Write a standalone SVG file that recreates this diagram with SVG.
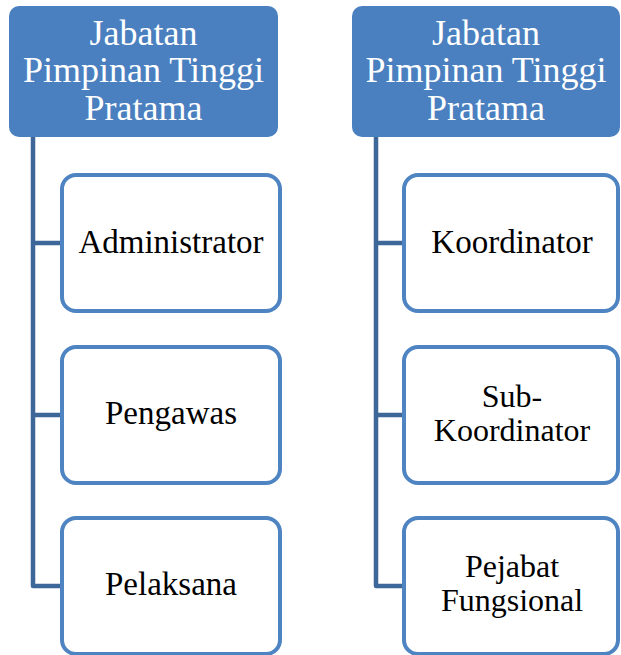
<svg xmlns="http://www.w3.org/2000/svg" width="621" height="655" viewBox="0 0 621 655">
<style>
.hdr{fill:#4a80bf;}
.ht{fill:#ffffff;font-family:"Liberation Serif",serif;font-size:36px;text-anchor:middle;}
.box{fill:#ffffff;stroke:#4f84c2;stroke-width:4;}
.ct{fill:#000000;font-family:"Liberation Serif",serif;font-size:33px;text-anchor:middle;}
.ct2{fill:#000000;font-family:"Liberation Serif",serif;font-size:32px;text-anchor:middle;}
.con{fill:none;stroke:#3d6699;stroke-width:4.5;stroke-linejoin:round;}
</style>
<rect width="621" height="655" fill="#ffffff"/>
<g id="connectors">
<path class="con" d="M33,137 V586 H60 M33,243 H60 M33,415 H60"/>
<path class="con" d="M376,137 V586 H402 M376,243 H402 M376,415 H402"/>
</g>
<g id="hdr-left">
<rect class="hdr" x="9" y="6" width="269" height="131" rx="10"/>
<text class="ht" x="143.5" y="45">Jabatan</text>
<text class="ht" x="143.5" y="82">Pimpinan Tinggi</text>
<text class="ht" x="143.5" y="120">Pratama</text>
</g>
<g id="hdr-right">
<rect class="hdr" x="352" y="6" width="268" height="131" rx="10"/>
<text class="ht" x="486" y="45">Jabatan</text>
<text class="ht" x="486" y="82">Pimpinan Tinggi</text>
<text class="ht" x="486" y="120">Pratama</text>
</g>
<g id="administrator">
<rect class="box" x="62" y="175" width="218" height="136" rx="14"/>
<text class="ct" x="171" y="253">Administrator</text>
</g>
<g id="pengawas">
<rect class="box" x="62" y="347" width="218" height="136" rx="14"/>
<text class="ct" x="171" y="424">Pengawas</text>
</g>
<g id="pelaksana">
<rect class="box" x="62" y="518" width="218" height="136" rx="14"/>
<text class="ct" x="171" y="595">Pelaksana</text>
</g>
<g id="koordinator">
<rect class="box" x="404" y="175" width="214" height="136" rx="14"/>
<text class="ct" x="512" y="253">Koordinator</text>
</g>
<g id="sub-koordinator">
<rect class="box" x="404" y="347" width="214" height="136" rx="14"/>
<text class="ct2" x="512" y="407">Sub-</text>
<text class="ct2" x="512" y="441">Koordinator</text>
</g>
<g id="pejabat-fungsional">
<rect class="box" x="404" y="518" width="214" height="136" rx="14"/>
<text class="ct2" x="512" y="577">Pejabat</text>
<text class="ct2" x="512" y="611">Fungsional</text>
</g>
</svg>
